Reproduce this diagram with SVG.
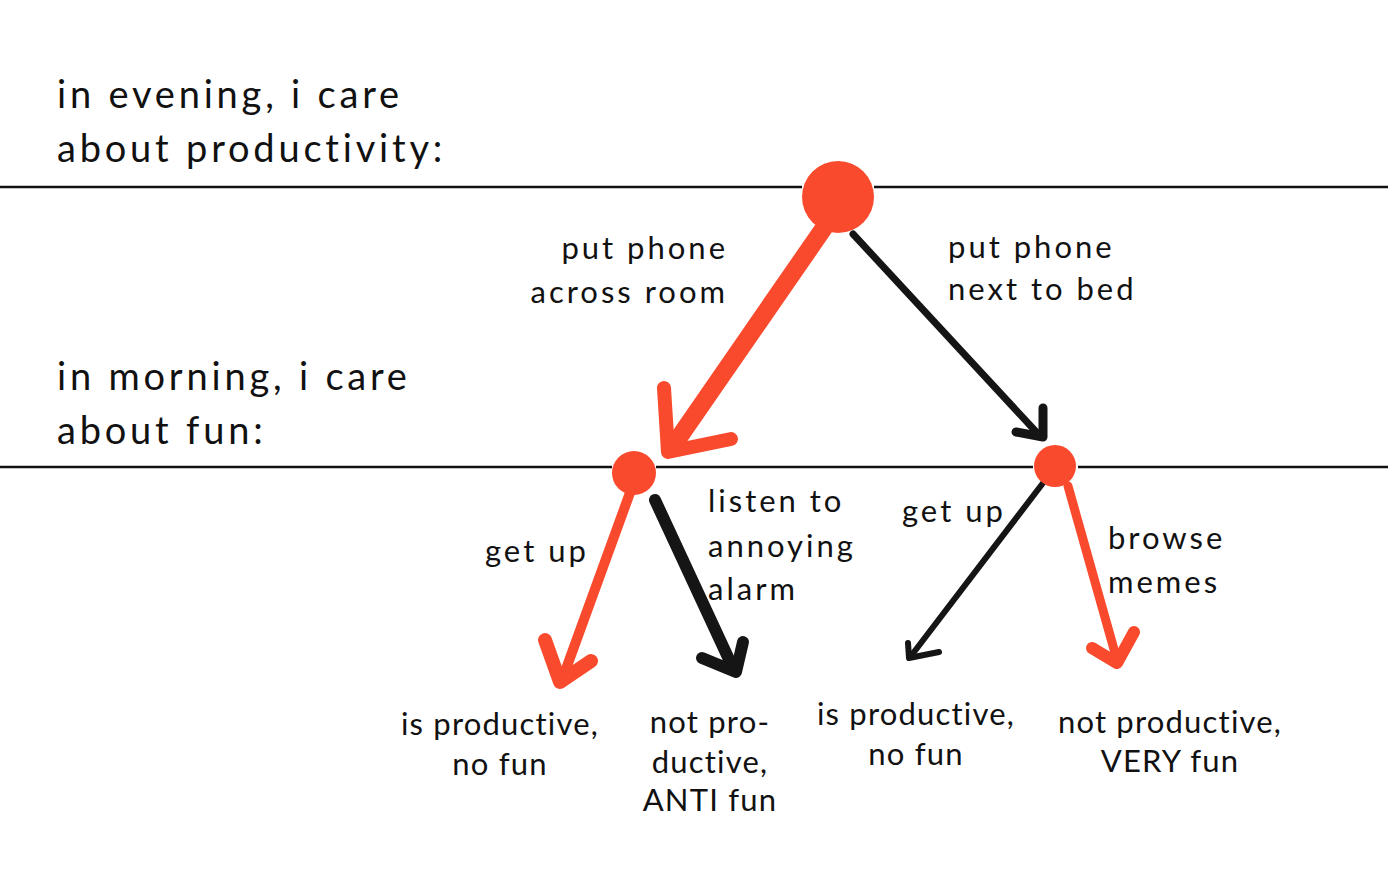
<svg xmlns="http://www.w3.org/2000/svg" width="1388" height="886" viewBox="0 0 1388 886">
<style>
text{font-family:"Lato","Open Sans",sans-serif;fill:#111;}
.h{font-size:38px;letter-spacing:3.8px;}
.l{font-size:31px;letter-spacing:3px;}
.o{font-size:31px;letter-spacing:1.2px;}
.rule{stroke:#111;stroke-width:2.5;fill:none;}
.red{stroke:#fa4a2e;fill:none;stroke-linecap:round;stroke-linejoin:round;}
.blk{stroke:#151515;fill:none;stroke-linecap:round;stroke-linejoin:round;}
.dot{fill:#fa4a2e;}
</style>
<rect width="1388" height="886" fill="#fff"/>
<g id="rules">
<line class="rule" x1="0" y1="187" x2="802" y2="187"/>
<line class="rule" x1="874" y1="187" x2="1388" y2="187"/>
<line class="rule" x1="0" y1="467" x2="612" y2="467"/>
<line class="rule" x1="656" y1="467" x2="1033" y2="467"/>
<line class="rule" x1="1078" y1="467" x2="1388" y2="467"/>
</g>
<g id="headings">
<text class="h" x="57" y="108">in evening, i care</text>
<text class="h" x="57" y="162">about productivity:</text>
<text class="h" x="57" y="390">in morning, i care</text>
<text class="h" x="57" y="444">about fun:</text>
</g>
<g id="connectors">
<path class="red" d="M828 222 L671 449" stroke-width="18"/>
<path class="red" d="M664 388 L668 452 L731 439" stroke-width="14"/>
<path class="blk" d="M853 234 L1040 436" stroke-width="7"/>
<path class="blk" d="M1043 408 L1043 437 L1016 432" stroke-width="9"/>
<path class="red" d="M631 490 L562 680" stroke-width="10"/>
<path class="red" d="M545 640 L560 682 L591 661" stroke-width="14"/>
<path class="blk" d="M655 500 L733 668" stroke-width="12"/>
<path class="blk" d="M743 642 L736 672 L702 658" stroke-width="12"/>
<path class="blk" d="M1043 483 L911 656" stroke-width="6"/>
<path class="blk" d="M908 643 L909 658 L939 652" stroke-width="6"/>
<path class="red" d="M1068 486 L1117 660" stroke-width="9"/>
<path class="red" d="M1092 648 L1117 663 L1134 632" stroke-width="12"/>
</g>
<g id="node-root"><circle class="dot" cx="838" cy="197" r="36"/></g>
<g id="node-across"><circle class="dot" cx="634" cy="473" r="22"/></g>
<g id="node-bed"><circle class="dot" cx="1055" cy="466" r="21"/></g>
<g id="labels">
<text class="l" x="728" y="259" text-anchor="end">put phone</text>
<text class="l" x="728" y="303" text-anchor="end">across room</text>
<text class="l" x="948" y="258">put phone</text>
<text class="l" x="948" y="300">next to bed</text>
<text class="l" x="485" y="562">get up</text>
<text class="l" x="708" y="512">listen to</text>
<text class="l" x="708" y="557">annoying</text>
<text class="l" x="708" y="600">alarm</text>
<text class="l" x="902" y="522">get up</text>
<text class="l" x="1108" y="549">browse</text>
<text class="l" x="1108" y="593">memes</text>
</g>
<g id="outcomes">
<text class="o" x="500" y="735" text-anchor="middle">is productive,</text>
<text class="o" x="500" y="775" text-anchor="middle">no fun</text>
<text class="o" x="710" y="733" text-anchor="middle">not pro-</text>
<text class="o" x="710" y="773" text-anchor="middle">ductive,</text>
<text class="o" x="710" y="811" text-anchor="middle">ANTI fun</text>
<text class="o" x="916" y="725" text-anchor="middle">is productive,</text>
<text class="o" x="916" y="765" text-anchor="middle">no fun</text>
<text class="o" x="1170" y="733" text-anchor="middle">not productive,</text>
<text class="o" x="1170" y="772" text-anchor="middle">VERY fun</text>
</g>
</svg>
